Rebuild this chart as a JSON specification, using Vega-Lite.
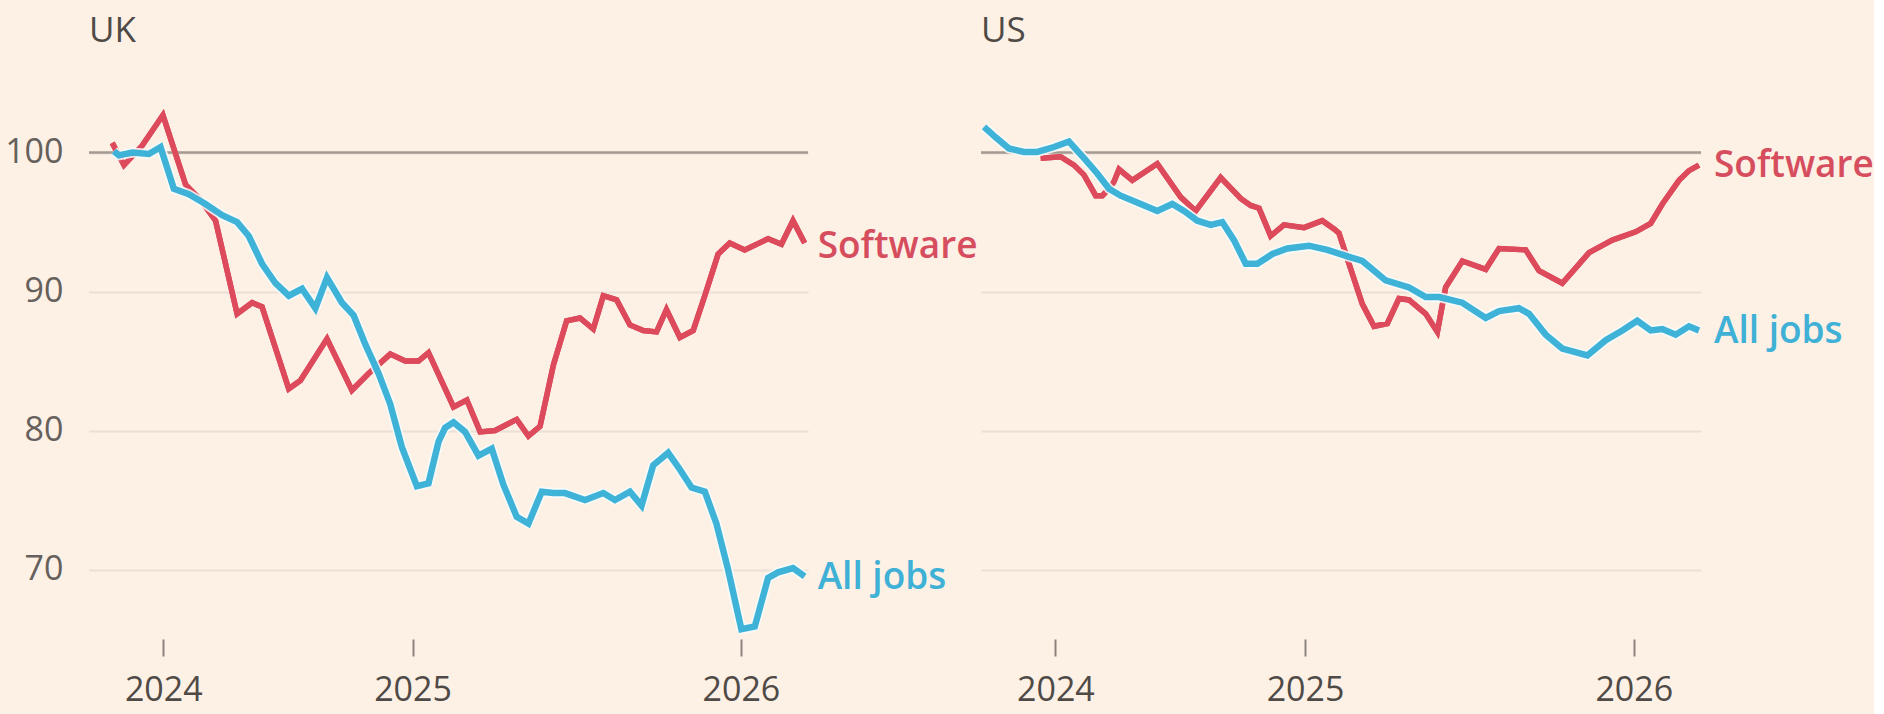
{
  "$schema": "https://vega.github.io/schema/vega-lite/v6.json",
  "background": "#fdf1e6",
  "padding": {"left": 4, "top": 14, "right": 0, "bottom": 30},
  "bounds": "flush",
  "spacing": 173,
  "config": {
    "view": {"stroke": null},
    "font": "Open Sans",
    "title": {"anchor": "start", "frame": "group", "fontSize": 35, "fontWeight": "normal", "color": "#4f4a46", "offset": 48},
    "axisX": {"domain": false, "grid": false, "ticks": true, "tickSize": 17, "tickColor": "#8c837c", "tickWidth": 2, "labelFontSize": 34, "labelColor": "#4f4a46", "labelPadding": 17, "title": null},
    "axisY": {"domain": false, "ticks": false, "grid": true, "gridColor": "#ebe0d5", "gridWidth": 2, "labelFontSize": 34, "labelColor": "#66605c", "labelPadding": 26, "title": null}
  },
  "datasets": {
    "lines": [
      {"country": "UK", "series": "Software", "t": 1.94, "value": 100.7},
      {"country": "UK", "series": "Software", "t": 2.92, "value": 99.1},
      {"country": "UK", "series": "Software", "t": 4.44, "value": 100.5},
      {"country": "UK", "series": "Software", "t": 6.17, "value": 102.7},
      {"country": "UK", "series": "Software", "t": 8.06, "value": 97.7},
      {"country": "UK", "series": "Software", "t": 9.3, "value": 96.6},
      {"country": "UK", "series": "Software", "t": 10.56, "value": 95.1},
      {"country": "UK", "series": "Software", "t": 12.36, "value": 88.4},
      {"country": "UK", "series": "Software", "t": 13.61, "value": 89.2},
      {"country": "UK", "series": "Software", "t": 14.44, "value": 88.9},
      {"country": "UK", "series": "Software", "t": 16.67, "value": 83.0},
      {"country": "UK", "series": "Software", "t": 17.64, "value": 83.6},
      {"country": "UK", "series": "Software", "t": 19.86, "value": 86.6},
      {"country": "UK", "series": "Software", "t": 21.94, "value": 82.9},
      {"country": "UK", "series": "Software", "t": 23.33, "value": 84.1},
      {"country": "UK", "series": "Software", "t": 25.14, "value": 85.5},
      {"country": "UK", "series": "Software", "t": 26.39, "value": 85.0},
      {"country": "UK", "series": "Software", "t": 27.5, "value": 85.0},
      {"country": "UK", "series": "Software", "t": 28.33, "value": 85.6},
      {"country": "UK", "series": "Software", "t": 30.42, "value": 81.7},
      {"country": "UK", "series": "Software", "t": 31.53, "value": 82.2},
      {"country": "UK", "series": "Software", "t": 32.64, "value": 79.9},
      {"country": "UK", "series": "Software", "t": 33.89, "value": 80.0},
      {"country": "UK", "series": "Software", "t": 35.69, "value": 80.8},
      {"country": "UK", "series": "Software", "t": 36.67, "value": 79.6},
      {"country": "UK", "series": "Software", "t": 37.64, "value": 80.3},
      {"country": "UK", "series": "Software", "t": 38.75, "value": 84.7},
      {"country": "UK", "series": "Software", "t": 39.86, "value": 87.9},
      {"country": "UK", "series": "Software", "t": 40.97, "value": 88.1},
      {"country": "UK", "series": "Software", "t": 42.08, "value": 87.3},
      {"country": "UK", "series": "Software", "t": 42.92, "value": 89.7},
      {"country": "UK", "series": "Software", "t": 44.03, "value": 89.4},
      {"country": "UK", "series": "Software", "t": 45.14, "value": 87.6},
      {"country": "UK", "series": "Software", "t": 46.25, "value": 87.2},
      {"country": "UK", "series": "Software", "t": 47.36, "value": 87.1},
      {"country": "UK", "series": "Software", "t": 48.19, "value": 88.7},
      {"country": "UK", "series": "Software", "t": 49.31, "value": 86.7},
      {"country": "UK", "series": "Software", "t": 50.42, "value": 87.2},
      {"country": "UK", "series": "Software", "t": 51.39, "value": 89.7},
      {"country": "UK", "series": "Software", "t": 52.5, "value": 92.7},
      {"country": "UK", "series": "Software", "t": 53.47, "value": 93.5},
      {"country": "UK", "series": "Software", "t": 54.72, "value": 93.0},
      {"country": "UK", "series": "Software", "t": 56.67, "value": 93.8},
      {"country": "UK", "series": "Software", "t": 57.78, "value": 93.4},
      {"country": "UK", "series": "Software", "t": 58.75, "value": 95.1},
      {"country": "UK", "series": "Software", "t": 59.72, "value": 93.5},
      {"country": "UK", "series": "All jobs", "t": 2.08, "value": 100.1},
      {"country": "UK", "series": "All jobs", "t": 2.5, "value": 99.8},
      {"country": "UK", "series": "All jobs", "t": 3.61, "value": 100.0},
      {"country": "UK", "series": "All jobs", "t": 5.0, "value": 99.9},
      {"country": "UK", "series": "All jobs", "t": 5.97, "value": 100.4},
      {"country": "UK", "series": "All jobs", "t": 7.08, "value": 97.4},
      {"country": "UK", "series": "All jobs", "t": 8.33, "value": 97.0},
      {"country": "UK", "series": "All jobs", "t": 9.72, "value": 96.3},
      {"country": "UK", "series": "All jobs", "t": 11.11, "value": 95.5},
      {"country": "UK", "series": "All jobs", "t": 12.36, "value": 95.0},
      {"country": "UK", "series": "All jobs", "t": 13.33, "value": 94.0},
      {"country": "UK", "series": "All jobs", "t": 14.44, "value": 92.0},
      {"country": "UK", "series": "All jobs", "t": 15.56, "value": 90.6},
      {"country": "UK", "series": "All jobs", "t": 16.67, "value": 89.7},
      {"country": "UK", "series": "All jobs", "t": 17.78, "value": 90.2},
      {"country": "UK", "series": "All jobs", "t": 18.89, "value": 88.8},
      {"country": "UK", "series": "All jobs", "t": 19.86, "value": 91.0},
      {"country": "UK", "series": "All jobs", "t": 21.11, "value": 89.2},
      {"country": "UK", "series": "All jobs", "t": 22.08, "value": 88.3},
      {"country": "UK", "series": "All jobs", "t": 23.06, "value": 86.2},
      {"country": "UK", "series": "All jobs", "t": 24.17, "value": 84.1},
      {"country": "UK", "series": "All jobs", "t": 25.14, "value": 81.9},
      {"country": "UK", "series": "All jobs", "t": 26.11, "value": 78.8},
      {"country": "UK", "series": "All jobs", "t": 27.36, "value": 76.0},
      {"country": "UK", "series": "All jobs", "t": 28.33, "value": 76.2},
      {"country": "UK", "series": "All jobs", "t": 29.17, "value": 79.2},
      {"country": "UK", "series": "All jobs", "t": 29.72, "value": 80.2},
      {"country": "UK", "series": "All jobs", "t": 30.42, "value": 80.6},
      {"country": "UK", "series": "All jobs", "t": 31.39, "value": 79.9},
      {"country": "UK", "series": "All jobs", "t": 32.5, "value": 78.2},
      {"country": "UK", "series": "All jobs", "t": 33.61, "value": 78.7},
      {"country": "UK", "series": "All jobs", "t": 34.58, "value": 76.1},
      {"country": "UK", "series": "All jobs", "t": 35.69, "value": 73.8},
      {"country": "UK", "series": "All jobs", "t": 36.67, "value": 73.3},
      {"country": "UK", "series": "All jobs", "t": 37.78, "value": 75.6},
      {"country": "UK", "series": "All jobs", "t": 38.75, "value": 75.5},
      {"country": "UK", "series": "All jobs", "t": 39.72, "value": 75.5},
      {"country": "UK", "series": "All jobs", "t": 41.39, "value": 75.0},
      {"country": "UK", "series": "All jobs", "t": 42.92, "value": 75.5},
      {"country": "UK", "series": "All jobs", "t": 43.89, "value": 75.0},
      {"country": "UK", "series": "All jobs", "t": 45.14, "value": 75.6},
      {"country": "UK", "series": "All jobs", "t": 46.11, "value": 74.6},
      {"country": "UK", "series": "All jobs", "t": 47.08, "value": 77.5},
      {"country": "UK", "series": "All jobs", "t": 48.33, "value": 78.4},
      {"country": "UK", "series": "All jobs", "t": 49.31, "value": 77.2},
      {"country": "UK", "series": "All jobs", "t": 50.28, "value": 75.9},
      {"country": "UK", "series": "All jobs", "t": 51.39, "value": 75.6},
      {"country": "UK", "series": "All jobs", "t": 52.36, "value": 73.3},
      {"country": "UK", "series": "All jobs", "t": 53.33, "value": 70.0},
      {"country": "UK", "series": "All jobs", "t": 54.44, "value": 65.7},
      {"country": "UK", "series": "All jobs", "t": 55.56, "value": 65.9},
      {"country": "UK", "series": "All jobs", "t": 56.67, "value": 69.4},
      {"country": "UK", "series": "All jobs", "t": 57.5, "value": 69.8},
      {"country": "UK", "series": "All jobs", "t": 58.75, "value": 70.1},
      {"country": "UK", "series": "All jobs", "t": 59.72, "value": 69.5},
      {"country": "US", "series": "Software", "t": 4.97, "value": 99.6},
      {"country": "US", "series": "Software", "t": 6.64, "value": 99.7},
      {"country": "US", "series": "Software", "t": 7.75, "value": 99.1},
      {"country": "US", "series": "Software", "t": 8.58, "value": 98.4},
      {"country": "US", "series": "Software", "t": 9.56, "value": 96.9},
      {"country": "US", "series": "Software", "t": 10.11, "value": 96.9},
      {"country": "US", "series": "Software", "t": 10.67, "value": 97.4},
      {"country": "US", "series": "Software", "t": 11.08, "value": 97.9},
      {"country": "US", "series": "Software", "t": 11.5, "value": 98.8},
      {"country": "US", "series": "Software", "t": 12.61, "value": 98.0},
      {"country": "US", "series": "Software", "t": 14.69, "value": 99.2},
      {"country": "US", "series": "Software", "t": 16.64, "value": 96.8},
      {"country": "US", "series": "Software", "t": 17.89, "value": 95.8},
      {"country": "US", "series": "Software", "t": 19.97, "value": 98.2},
      {"country": "US", "series": "Software", "t": 21.64, "value": 96.7},
      {"country": "US", "series": "Software", "t": 22.47, "value": 96.2},
      {"country": "US", "series": "Software", "t": 23.17, "value": 96.0},
      {"country": "US", "series": "Software", "t": 24.14, "value": 94.0},
      {"country": "US", "series": "Software", "t": 25.25, "value": 94.8},
      {"country": "US", "series": "Software", "t": 26.92, "value": 94.6},
      {"country": "US", "series": "Software", "t": 28.44, "value": 95.1},
      {"country": "US", "series": "Software", "t": 29.42, "value": 94.5},
      {"country": "US", "series": "Software", "t": 29.83, "value": 94.2},
      {"country": "US", "series": "Software", "t": 30.67, "value": 92.0},
      {"country": "US", "series": "Software", "t": 31.78, "value": 89.1},
      {"country": "US", "series": "Software", "t": 32.75, "value": 87.5},
      {"country": "US", "series": "Software", "t": 33.86, "value": 87.7},
      {"country": "US", "series": "Software", "t": 34.83, "value": 89.5},
      {"country": "US", "series": "Software", "t": 35.67, "value": 89.4},
      {"country": "US", "series": "Software", "t": 37.06, "value": 88.4},
      {"country": "US", "series": "Software", "t": 38.03, "value": 87.1},
      {"country": "US", "series": "Software", "t": 38.72, "value": 90.3},
      {"country": "US", "series": "Software", "t": 40.11, "value": 92.2},
      {"country": "US", "series": "Software", "t": 42.06, "value": 91.6},
      {"country": "US", "series": "Software", "t": 43.17, "value": 93.1},
      {"country": "US", "series": "Software", "t": 45.39, "value": 93.0},
      {"country": "US", "series": "Software", "t": 46.5, "value": 91.5},
      {"country": "US", "series": "Software", "t": 48.44, "value": 90.6},
      {"country": "US", "series": "Software", "t": 50.67, "value": 92.8},
      {"country": "US", "series": "Software", "t": 52.61, "value": 93.7},
      {"country": "US", "series": "Software", "t": 54.56, "value": 94.3},
      {"country": "US", "series": "Software", "t": 55.81, "value": 94.9},
      {"country": "US", "series": "Software", "t": 56.78, "value": 96.3},
      {"country": "US", "series": "Software", "t": 58.17, "value": 98.0},
      {"country": "US", "series": "Software", "t": 59.0, "value": 98.7},
      {"country": "US", "series": "Software", "t": 59.83, "value": 99.1},
      {"country": "US", "series": "All jobs", "t": 0.25, "value": 101.85},
      {"country": "US", "series": "All jobs", "t": 1.22, "value": 101.1},
      {"country": "US", "series": "All jobs", "t": 2.33, "value": 100.3},
      {"country": "US", "series": "All jobs", "t": 3.58, "value": 100.05},
      {"country": "US", "series": "All jobs", "t": 4.69, "value": 100.05},
      {"country": "US", "series": "All jobs", "t": 6.08, "value": 100.4},
      {"country": "US", "series": "All jobs", "t": 7.33, "value": 100.8},
      {"country": "US", "series": "All jobs", "t": 8.58, "value": 99.6},
      {"country": "US", "series": "All jobs", "t": 9.69, "value": 98.5},
      {"country": "US", "series": "All jobs", "t": 10.67, "value": 97.4},
      {"country": "US", "series": "All jobs", "t": 11.64, "value": 96.9},
      {"country": "US", "series": "All jobs", "t": 13.31, "value": 96.3},
      {"country": "US", "series": "All jobs", "t": 14.69, "value": 95.8},
      {"country": "US", "series": "All jobs", "t": 15.94, "value": 96.3},
      {"country": "US", "series": "All jobs", "t": 16.92, "value": 95.8},
      {"country": "US", "series": "All jobs", "t": 18.03, "value": 95.1},
      {"country": "US", "series": "All jobs", "t": 19.14, "value": 94.8},
      {"country": "US", "series": "All jobs", "t": 20.11, "value": 95.0},
      {"country": "US", "series": "All jobs", "t": 21.08, "value": 93.7},
      {"country": "US", "series": "All jobs", "t": 22.06, "value": 92.0},
      {"country": "US", "series": "All jobs", "t": 23.03, "value": 92.0},
      {"country": "US", "series": "All jobs", "t": 24.28, "value": 92.7},
      {"country": "US", "series": "All jobs", "t": 25.53, "value": 93.1},
      {"country": "US", "series": "All jobs", "t": 27.33, "value": 93.3},
      {"country": "US", "series": "All jobs", "t": 28.86, "value": 93.0},
      {"country": "US", "series": "All jobs", "t": 30.67, "value": 92.5},
      {"country": "US", "series": "All jobs", "t": 31.78, "value": 92.2},
      {"country": "US", "series": "All jobs", "t": 33.72, "value": 90.8},
      {"country": "US", "series": "All jobs", "t": 35.67, "value": 90.3},
      {"country": "US", "series": "All jobs", "t": 37.06, "value": 89.6},
      {"country": "US", "series": "All jobs", "t": 38.17, "value": 89.6},
      {"country": "US", "series": "All jobs", "t": 40.11, "value": 89.2},
      {"country": "US", "series": "All jobs", "t": 42.06, "value": 88.1},
      {"country": "US", "series": "All jobs", "t": 43.17, "value": 88.6},
      {"country": "US", "series": "All jobs", "t": 44.83, "value": 88.8},
      {"country": "US", "series": "All jobs", "t": 45.67, "value": 88.4},
      {"country": "US", "series": "All jobs", "t": 47.06, "value": 86.9},
      {"country": "US", "series": "All jobs", "t": 48.44, "value": 85.9},
      {"country": "US", "series": "All jobs", "t": 50.53, "value": 85.4},
      {"country": "US", "series": "All jobs", "t": 52.06, "value": 86.5},
      {"country": "US", "series": "All jobs", "t": 53.44, "value": 87.2},
      {"country": "US", "series": "All jobs", "t": 54.69, "value": 87.9},
      {"country": "US", "series": "All jobs", "t": 55.81, "value": 87.2},
      {"country": "US", "series": "All jobs", "t": 56.78, "value": 87.3},
      {"country": "US", "series": "All jobs", "t": 57.89, "value": 86.9},
      {"country": "US", "series": "All jobs", "t": 59.0, "value": 87.5},
      {"country": "US", "series": "All jobs", "t": 59.83, "value": 87.2}
    ],
    "labels": [
      {"country": "UK", "series": "Software", "t": 59.72, "value": 93.2},
      {"country": "UK", "series": "All jobs", "t": 59.72, "value": 69.4},
      {"country": "US", "series": "Software", "t": 59.83, "value": 99.0},
      {"country": "US", "series": "All jobs", "t": 59.83, "value": 87.1}
    ]
  },
  "hconcat": [
    {
      "title": {"text": "UK"},
      "width": 719,
      "height": 542,
      "layer": [
        {
          "data": {"name": "lines"},
          "transform": [{"filter": "datum.country === 'UK' && datum.series === 'Software'"}],
          "mark": {"type": "line", "strokeWidth": 5.5, "strokeJoin": "miter", "color": "#dc4a5c"},
          "encoding": {
            "x": {"field": "t", "type": "quantitative", "scale": {"domain": [0, 60], "nice": false, "zero": false}, "axis": {"values": [6.2, 27, 54.4], "labelExpr": "datum.value < 10 ? '2024' : datum.value < 40 ? '2025' : '2026'"}},
            "y": {"field": "value", "type": "quantitative", "scale": {"domain": [65, 104], "nice": false, "zero": false}, "axis": {"values": [70, 80, 90, 100]}}
          }
        },
        {
          "data": {"values": [{"level": 100}]},
          "mark": {"type": "rule", "color": "#a39a92", "strokeWidth": 2.5},
          "encoding": {"y": {"field": "level", "type": "quantitative"}}
        },
        {
          "data": {"name": "lines"},
          "transform": [{"filter": "datum.country === 'UK' && datum.series === 'Software'"}],
          "mark": {"type": "line", "strokeWidth": 5.5, "strokeJoin": "miter", "color": "#dc4a5c"},
          "encoding": {
            "x": {"field": "t", "type": "quantitative"},
            "y": {"field": "value", "type": "quantitative"}
          }
        },
        {
          "data": {"name": "lines"},
          "transform": [{"filter": "datum.country === 'UK' && datum.series === 'All jobs'"}],
          "mark": {"type": "line", "strokeWidth": 10, "strokeJoin": "round", "color": "#f7fbfa", "opacity": 0.85},
          "encoding": {
            "x": {"field": "t", "type": "quantitative"},
            "y": {"field": "value", "type": "quantitative"}
          }
        },
        {
          "data": {"name": "lines"},
          "transform": [{"filter": "datum.country === 'UK' && datum.series === 'All jobs'"}],
          "mark": {"type": "line", "strokeWidth": 6.5, "strokeJoin": "miter", "color": "#3fb2d8"},
          "encoding": {
            "x": {"field": "t", "type": "quantitative"},
            "y": {"field": "value", "type": "quantitative"}
          }
        },
        {
          "data": {"name": "labels"},
          "transform": [{"filter": "datum.country === 'UK'"}],
          "mark": {"type": "text", "align": "left", "baseline": "middle", "dx": 13, "fontSize": 37, "fontWeight": 600},
          "encoding": {
            "x": {"field": "t", "type": "quantitative"},
            "y": {"field": "value", "type": "quantitative"},
            "text": {"field": "series"},
            "color": {"field": "series", "type": "nominal", "scale": {"domain": ["Software", "All jobs"], "range": ["#d64d5e", "#3fb0d6"]}, "legend": null}
          }
        }
      ]
    },
    {
      "title": {"text": "US"},
      "width": 720,
      "height": 542,
      "layer": [
        {
          "data": {"name": "lines"},
          "transform": [{"filter": "datum.country === 'US' && datum.series === 'Software'"}],
          "mark": {"type": "line", "strokeWidth": 5.5, "strokeJoin": "miter", "color": "#dc4a5c"},
          "encoding": {
            "x": {"field": "t", "type": "quantitative", "scale": {"domain": [0, 60], "nice": false, "zero": false}, "axis": {"values": [6.2, 27, 54.4], "labelExpr": "datum.value < 10 ? '2024' : datum.value < 40 ? '2025' : '2026'"}},
            "y": {"field": "value", "type": "quantitative", "scale": {"domain": [65, 104], "nice": false, "zero": false}, "axis": {"values": [70, 80, 90, 100], "labels": false}}
          }
        },
        {
          "data": {"values": [{"level": 100}]},
          "mark": {"type": "rule", "color": "#a39a92", "strokeWidth": 2.5},
          "encoding": {"y": {"field": "level", "type": "quantitative"}}
        },
        {
          "data": {"name": "lines"},
          "transform": [{"filter": "datum.country === 'US' && datum.series === 'Software'"}],
          "mark": {"type": "line", "strokeWidth": 5.5, "strokeJoin": "miter", "color": "#dc4a5c"},
          "encoding": {
            "x": {"field": "t", "type": "quantitative"},
            "y": {"field": "value", "type": "quantitative"}
          }
        },
        {
          "data": {"name": "lines"},
          "transform": [{"filter": "datum.country === 'US' && datum.series === 'All jobs'"}],
          "mark": {"type": "line", "strokeWidth": 10, "strokeJoin": "round", "color": "#f7fbfa", "opacity": 0.85},
          "encoding": {
            "x": {"field": "t", "type": "quantitative"},
            "y": {"field": "value", "type": "quantitative"}
          }
        },
        {
          "data": {"name": "lines"},
          "transform": [{"filter": "datum.country === 'US' && datum.series === 'All jobs'"}],
          "mark": {"type": "line", "strokeWidth": 6.5, "strokeJoin": "miter", "color": "#3fb2d8"},
          "encoding": {
            "x": {"field": "t", "type": "quantitative"},
            "y": {"field": "value", "type": "quantitative"}
          }
        },
        {
          "data": {"name": "labels"},
          "transform": [{"filter": "datum.country === 'US'"}],
          "mark": {"type": "text", "align": "left", "baseline": "middle", "dx": 15, "fontSize": 37, "fontWeight": 600},
          "encoding": {
            "x": {"field": "t", "type": "quantitative"},
            "y": {"field": "value", "type": "quantitative"},
            "text": {"field": "series"},
            "color": {"field": "series", "type": "nominal", "scale": {"domain": ["Software", "All jobs"], "range": ["#d64d5e", "#3fb0d6"]}, "legend": null}
          }
        }
      ]
    }
  ]
}
